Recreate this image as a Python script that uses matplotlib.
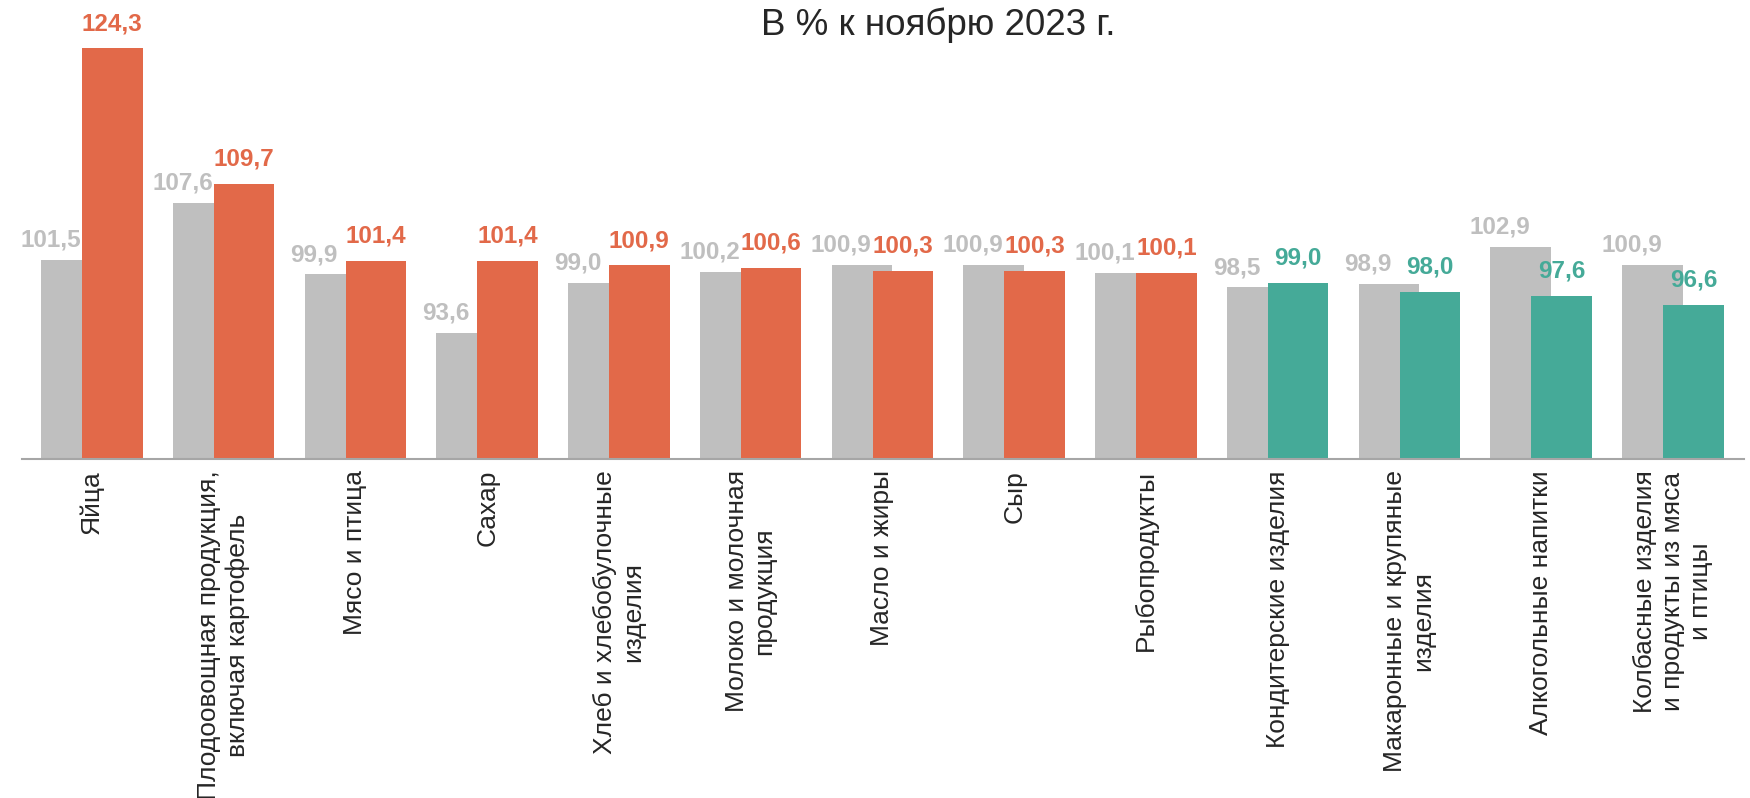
import numpy as np
import matplotlib.pyplot as plt

plt.rcParams['font.family'] = ['Liberation Sans', 'DejaVu Sans']

categories = [
    "Яйца",
    "Плодоовощная продукция,\nвключая картофель",
    "Мясо и птица",
    "Сахар",
    "Хлеб и хлебобулочные\nизделия",
    "Молоко и молочная\nпродукция",
    "Масло и жиры",
    "Сыр",
    "Рыбопродукты",
    "Кондитерские изделия",
    "Макаронные и крупяные\nизделия",
    "Алкогольные напитки",
    "Колбасные изделия\nи продукты из мяса\nи птицы",
]
prev_vals = [101.5, 107.6, 99.9, 93.6, 99.0, 100.2, 100.9, 100.9, 100.1, 98.5, 98.9, 102.9, 100.9]
curr_vals = [124.3, 109.7, 101.4, 101.4, 100.9, 100.6, 100.3, 100.3, 100.1, 99.0, 98.0, 97.6, 96.6]

GREY = '#bfbfbf'
ORANGE = '#e26949'
TEAL = '#45aa98'

fig = plt.figure(figsize=(17.5, 7.98), dpi=100)
ax = fig.add_axes([0.0126, 0.4248, 0.984, 0.5752])

x = np.arange(len(categories))
w = 0.46
off = 0.155
colors = [ORANGE if v >= 100 else TEAL for v in curr_vals]

ax.bar(x - off, prev_vals, width=w, color=GREY, zorder=1)
ax.bar(x + off, curr_vals, width=w, color=colors, zorder=2)

for i in range(len(x)):
    ax.annotate(f"{prev_vals[i]:.1f}".replace('.', ','), (x[i] - off, prev_vals[i]),
                xytext=(-15, 6), textcoords='offset points', ha='center', va='bottom',
                fontsize=17.5, fontweight='bold', color=GREY)
    ax.annotate(f"{curr_vals[i]:.1f}".replace('.', ','), (x[i] + off, curr_vals[i]),
                xytext=(0, 9.5), textcoords='offset points', ha='center', va='bottom',
                fontsize=17.5, fontweight='bold', color=colors[i])

ax.set_ylim(80, 129.5)
ax.set_xlim(-0.53, 12.54)
ax.set_xticks(x)
ax.set_xticklabels(categories, rotation=90, fontsize=19, color='#262626',
                   ha='center', va='top', multialignment='center')
ax.tick_params(axis='x', length=0, pad=8)
ax.set_yticks([])
for s in ['top', 'right', 'left']:
    ax.spines[s].set_visible(False)
ax.spines['bottom'].set_color('#a6a6a6')
ax.spines['bottom'].set_linewidth(1.5)

fig.text(0.536, 0.968, "В % к ноябрю 2023 г.", ha='center', va='center',
         fontsize=26.5, color='#262626')

fig.savefig('out.png', dpi=100)
